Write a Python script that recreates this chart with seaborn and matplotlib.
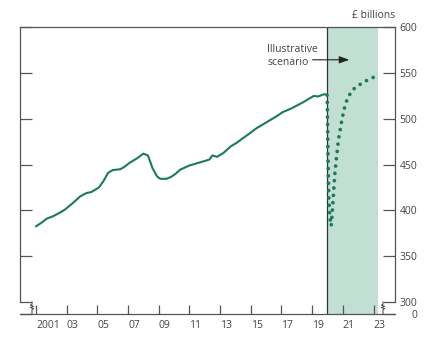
import numpy as np
import pandas as pd
import matplotlib
matplotlib.use("Agg")
import matplotlib.pyplot as plt
import matplotlib.transforms as mtransforms
import seaborn as sns

# ---- data ----
hist_years = [2001.0, 2001.4, 2001.7, 2002.1, 2002.5, 2002.9, 2003.4, 2003.9, 2004.3,
              2004.6, 2005.1, 2005.4, 2005.7, 2006.0, 2006.5, 2006.8, 2007.1, 2007.6,
              2008.0, 2008.3, 2008.6, 2008.9, 2009.1, 2009.5, 2009.8, 2010.1, 2010.4,
              2011.0, 2011.4, 2011.9, 2012.3, 2012.5, 2012.8, 2013.2, 2013.7, 2014.1,
              2014.5, 2015.0, 2015.4, 2015.8, 2016.3, 2016.7, 2017.1, 2017.6, 2018.0,
              2018.4, 2018.7, 2019.1, 2019.4, 2019.8, 2019.97]
hist_values = [382.5, 387, 391, 393.5, 397, 401, 408, 415.5, 419,
               420, 425, 432, 441, 444, 445, 448, 452, 457,
               462, 460, 446, 437, 434.5, 434.5, 436.5, 440, 444.5,
               449, 451, 453.5, 455.5, 460, 458.5, 462.5, 470, 474,
               479, 485, 490, 494, 499, 503, 507.5, 511, 514.5,
               518, 521, 525, 524.5, 527, 526]

scen_years = [2019.97, 2019.99, 2020.01, 2020.03, 2020.06, 2020.1, 2020.16, 2020.24,
              2020.3, 2020.38, 2020.47, 2020.57, 2020.72, 2020.85, 2020.94, 2021.05,
              2021.16, 2021.37, 2021.63, 2022.07, 2022.51, 2022.96, 2023.29]
scen_values = [526, 512, 490, 462, 435, 408, 392, 383,
               395, 415, 438, 455, 478, 490, 499, 507.4,
               516, 524.4, 531.7, 537.1, 541.5, 545.1, 547]

year_ticks = [2001, 2003, 2005, 2007, 2009, 2011, 2013, 2015, 2017, 2019, 2021, 2023]
year_labels = ["2001", "03", "05", "07", "09", "11", "13", "15", "17", "19", "21", "23"]
value_ticks = [300, 350, 400, 450, 500, 550, 600]
value_labels = ["300", "350", "400", "450", "500", "550", "600"]
scenario_span = (2020.0, 2023.27)

# ---- style ----
sns.set_theme(style="white")
plt.rcParams["font.family"] = ["Open Sans", "DejaVu Sans"]
LINE = "#1b7a5c"
SHADE = "#c1dfd2"
AX = "#555555"
TXT = "#444444"

fig = plt.figure(figsize=(4.48, 3.44), dpi=100)
ax = fig.add_axes([20/448, 1-314.3/344, 375/448, (314.3-27.3)/344])

YBOT = 286.5
ax.set_ylim(YBOT, 600)
ax.set_xlim(1999.96, 2024.4)

ax.axvspan(*scenario_span, color=SHADE, lw=0, zorder=0)
ax.axvline(scenario_span[0], color="#333333", lw=0.9, zorder=1)

hist = pd.DataFrame({"year": hist_years, "value": hist_values})
scen = pd.DataFrame({"year": scen_years, "value": scen_values})
sns.lineplot(data=hist, x="year", y="value", ax=ax, color=LINE, lw=1.5, zorder=3)
sns.lineplot(data=scen, x="year", y="value", ax=ax, color=LINE, lw=2.7,
             linestyle=(0, (0.01, 1.95)), dash_capstyle="round", zorder=3)
ax.set_xlabel("")
ax.set_ylabel("")

# spines
for s in ax.spines.values():
    s.set_color(AX)
    s.set_linewidth(0.9)
ax.spines["left"].set_bounds(300, 600)
ax.spines["right"].set_bounds(300, 600)
ax.spines["right"].set_visible(True)

# y ticks
ax.yaxis.set_ticks_position("both")
ax.set_yticks([YBOT] + value_ticks)
ax.set_yticklabels(["0"] + value_labels)
ax.tick_params(axis="y", direction="in", length=8.6, width=0.9, color=AX,
               left=True, right=True, labelleft=False, labelright=True,
               labelsize=7.5, labelcolor=TXT, pad=16)
for lab in ax.get_yticklabels():
    lab.set_horizontalalignment("right")

# x ticks
ax.set_xticks(year_ticks)
ax.set_xticklabels(year_labels)
ax.tick_params(axis="x", direction="in", length=6.5, width=0.9, color=AX,
               bottom=True, top=False, labelsize=7.5, labelcolor=TXT, pad=4)
for lab in ax.get_xticklabels():
    lab.set_horizontalalignment("left")

# axis break zigzags
bt = mtransforms.blended_transform_factory(ax.transAxes, ax.transData)
dx = 1.6 / 375
for x0 in (12/375, 363/375):
    zx = [x0, x0, x0 - dx, x0 + dx, x0 - dx, x0 + dx, x0, x0]
    zy = [300, 297.5, 296.5, 295.2, 293.9, 292.6, 291.5, YBOT]
    ax.plot(zx, zy, transform=bt, color=AX, lw=0.8, clip_on=False, zorder=4)

# annotation
ax.text(2016.07, 568.5, "Illustrative\nscenario", ha="left", va="center",
        fontsize=7.5, color=TXT, linespacing=1.25)
ax.annotate("", xy=(2021.6, 564.5), xytext=(2018.85, 564.5),
            arrowprops=dict(arrowstyle="-|>,head_length=0.5,head_width=0.18",
                            color="#222222", lw=0.8))

fig.text(395/448, 1-16/344, "£ billions", ha="right", va="center",
         fontsize=7.5, color=TXT)

fig.savefig("out.png", dpi=100)
